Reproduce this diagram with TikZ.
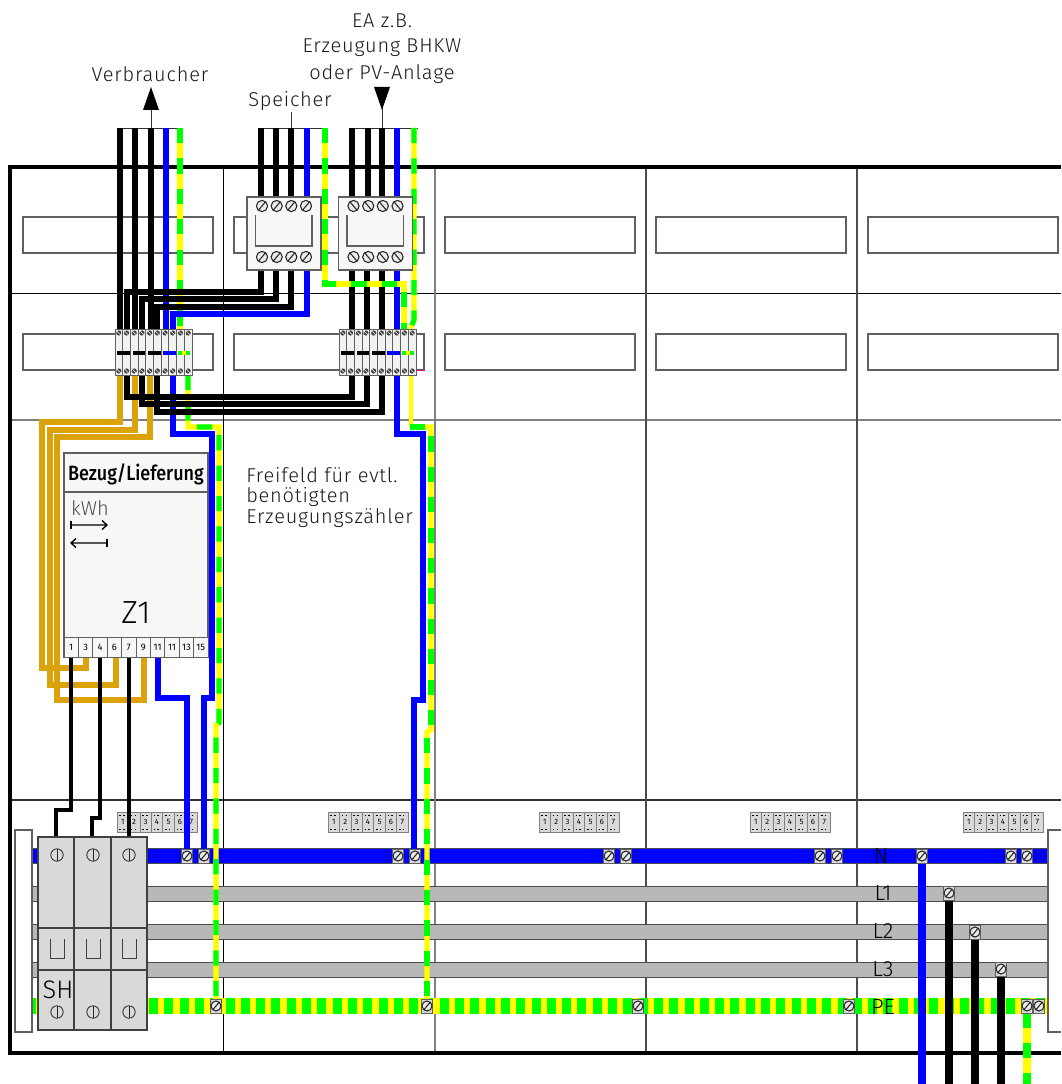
\documentclass[tikz,border=0pt]{standalone}
\usepackage{fontspec}
\setmainfont{Fira Sans Light}
\newfontfamily\thinfont[LetterSpace=4]{Fira Sans Light}
\newfontfamily\plainthin{Fira Sans Light}
\newfontfamily\headfont{Fira Sans Medium}
\newfontfamily\cellfont{Fira Sans}
\definecolor{gygreen}{HTML}{00FF00}
\definecolor{gyyellow}{HTML}{FFFF00}
\definecolor{nblue}{HTML}{0000FF}
\definecolor{gold}{HTML}{DCA20A}
\definecolor{busgrey}{HTML}{B8B8B8}
\definecolor{partgrey}{HTML}{D9D9D9}
\definecolor{edge}{HTML}{606060}
\tikzset{
  wireblk/.style={draw=black,line width=3.85pt},
  wireblu/.style={draw=nblue,line width=3.85pt},
  wiregold/.style={draw=gold,line width=3.85pt},
  wiremeter/.style={draw=black,line width=3.2pt},
  gybase/.style={draw=gyyellow,line width=3.8pt},
  gydash/.style={draw=gygreen,line width=3.8pt,dash pattern=on 11.4pt off 11.4pt},
  strip/.style={draw=edge,fill=white,line width=0.8pt},
  thin line/.style={draw=black,line width=0.7pt},
  grey line/.style={draw=gray,line width=1.1pt},
  lbl/.style={inner sep=0pt,font=\thinfont\fontsize{15}{16}\selectfont,text=black!90},
  buslbl/.style={inner sep=0pt,font=\plainthin\fontsize{16.5}{17}\selectfont,text=black},
  cellnum/.style={inner sep=0pt,font=\cellfont\fontsize{7}{8}\selectfont},
  tinynum/.style={inner sep=0pt,font=\cellfont\fontsize{5.8}{6}\selectfont},
  partbox/.style={draw=edge,fill=white!97!black,line width=0.8pt},
}
\newcommand\gyw[1]{\draw[gybase] #1; \draw[gydash] #1;}
\newcommand\scrw[4]{%
  \draw[draw=black!85,fill=white!92!black,line width=0.8pt] (#1,#2) circle[radius=#3];
  \draw[draw=black!85,line width=0.8pt] (#1,#2) ++(#4:#3) -- ++(#4+180:2*#3);}
\newcommand\busterm[2]{%
  \fill[partgrey,draw=edge,line width=0.5pt] (#1-5.5,#2-7) rectangle (#1+5.5,#2+7);
  \scrw{#1}{#2}{5}{-50}}
\newcommand\tinyscrew[2]{%
  \fill[black!75] (#1,#2) circle[radius=2.6];
  \draw[white,line width=0.4pt] (#1,#2) ++(45:2.6) -- ++(225:5.2);}
\newcommand\tblock[1]{% left edge
  \foreach \i in {0,...,9}{
    \draw[draw=edge,fill=white!95!black,line width=0.7pt] (#1+\i*7.7,329) rectangle (#1+\i*7.7+7.7,375);
    \tinyscrew{#1+\i*7.7+3.85}{333}
    \tinyscrew{#1+\i*7.7+3.85}{371}
  }
  \fill[black] (#1+2,351) rectangle (#1+14.5,355);
  \fill[black] (#1+17.5,351) rectangle (#1+30,355);
  \fill[black] (#1+33,351) rectangle (#1+45.5,355);
  \fill[nblue] (#1+48,351) rectangle (#1+60.5,355);
  \fill[gygreen] (#1+63,351) rectangle (#1+75,355);
  \fill[gyyellow] (#1+67,351) rectangle (#1+71,355);
}
\newcommand\numblock[1]{% left edge
  \fill[partgrey,draw=gray,line width=0.7pt] (#1,812) rectangle (#1+80,832);
  \foreach \i in {1,...,7}{
    \draw[draw=gray,line width=0.5pt] (#1+\i*11.43-11.43,812) rectangle (#1+\i*11.43,832);
    \draw[black,line width=0.6pt,dash pattern=on 1.2pt off 1.6pt] (#1+\i*11.43-9,815) -- (#1+\i*11.43-2,815);
    \draw[black,line width=0.6pt,dash pattern=on 1.2pt off 1.6pt] (#1+\i*11.43-9,829) -- (#1+\i*11.43-2,829);
    \node[tinynum] (n#1x\i) at (#1+\i*11.43-5.7,822) {\i};
  }}
\begin{document}
\begin{tikzpicture}[x=0.75pt,y=-0.75pt]
\path[use as bounding box] (0,0) rectangle (1061,1084);
% dividers
\draw[thin line] (10,293) -- (1061,293);
\draw[grey line] (10,420) -- (1061,420);
\draw[draw=black!80,line width=0.8pt] (10,800) -- (1061,800);
\draw[thin line] (223,167) -- (223,1053);
\draw[grey line] (435,167) -- (435,1053);
\draw[draw=black!70,line width=0.8pt] (646,167) -- (646,1053);
\draw[draw=black!70,line width=0.8pt] (857,167) -- (857,1053);
% frame
\draw[draw=black,line width=2.8pt] (1061,167) -- (10,167) -- (10,1053) -- (1061,1053);
% label strips
\foreach \y in {217,334}{
  \foreach \x/\w in {23/213,234/424,445/635,656/846,868/1058}{
    \draw[strip] (\x,\y) rectangle (\w,\y+36);
  }}
\draw[draw=magenta,line width=0.7pt] (416,370.5) -- (425,370.5);
% number blocks
\numblock{117}\numblock{328}\numblock{539}\numblock{750}\numblock{963}
% buses
\fill[nblue] (32,848) rectangle (1048,863);
\draw[draw=black!70,line width=0.5pt] (32,848) -- (1048,848) (32,863) -- (1048,863);
\foreach \a in {886,924,962}{
  \fill[busgrey] (32,\a) rectangle (1048,\a+15);
  \draw[draw=black!70,line width=0.6pt] (32,\a) -- (1048,\a) (32,\a+15) -- (1048,\a+15);
}
\fill[gyyellow] (32,998) rectangle (1048,1014);
\draw[draw=gygreen,line width=12pt,dash pattern=on 6.75pt off 4.725pt,dash phase=4pt] (32,1006) -- (1048,1006);
% bus labels
\node[buslbl] (labN) at (881,856) {N};
\node[buslbl] (labLa) at (883,893) {L1};
\node[buslbl] (labLb) at (883,931) {L2};
\node[buslbl] (labLc) at (883,969) {L3};
\node[buslbl] (labPE) at (883,1007) {PE};
% top tie lines and stems
\draw[draw=black!80,line width=0.7pt] (118,128) -- (183,128) (151,128) -- (151,108);
\draw[draw=black!80,line width=0.7pt] (259,128) -- (328,128) (291,128) -- (291,112);
\draw[draw=black!80,line width=0.7pt] (350,128) -- (418,128) (382,128) -- (382,108);
\fill[black] (151,87) -- (159,110) -- (143,110) -- cycle;
\fill[black] (382,110) -- (390,87) -- (374,87) -- cycle;
% gold wires
\draw[wiregold] (120,375) -- (120,422) -- (42,422) -- (42,668) -- (86,668) -- (86,657);
\draw[wiregold] (135,375) -- (135,430) -- (50,430) -- (50,685) -- (116,685) -- (116,657);
\draw[wiregold] (150,375) -- (150,437) -- (57,437) -- (57,700) -- (144,700) -- (144,657);
% verbraucher feed
\gyw{(180,128) -- (180,330)}
\draw[wireblu] (166,128) -- (166,330);
\draw[wireblk] (120,128) -- (120,330);
\draw[wireblk] (135,128) -- (135,330);
\draw[wireblk] (151,128) -- (151,330);
% speicher feed
\draw[wireblk] (261,128) -- (261,197);
\draw[wireblk] (276,128) -- (276,197);
\draw[wireblk] (291,128) -- (291,197);
\draw[wireblu] (307,128) -- (307,197);
\draw[wireblu] (307,270) -- (307,314) -- (173,314) -- (173,330);
\draw[wireblk] (261,270) -- (261,292) -- (127,292) -- (127,330);
\draw[wireblk] (276,270) -- (276,299) -- (142,299) -- (142,330);
\draw[wireblk] (291,270) -- (291,307) -- (157,307) -- (157,330);
% EA feed
\draw[wireblk] (352,128) -- (352,197) (352,270) -- (352,330);
\draw[wireblk] (368,128) -- (368,197) (367,270) -- (367,330);
\draw[wireblk] (382,128) -- (382,197) (382,270) -- (382,330);
\draw[wireblu] (397,128) -- (397,330);
\gyw{(325,128) -- (325,284) -- (404,284) -- (404,330)}
\gyw{(414,128) -- (414,320) -- (411,327) -- (411,330)}
% returns to meter and bus
\draw[wireblu] (397,375) -- (397,434) -- (423,434) -- (423,700) -- (414,700) -- (414,850);
\draw[wireblu] (173,375) -- (173,434) -- (212,434) -- (212,698) -- (204,698) -- (204,850);
\draw[wireblu] (158,657) -- (158,698) -- (187,698) -- (187,850);
\gyw{(188,375) -- (188,427) -- (219,427) -- (219,723) -- (216,725) -- (216,1000)}
\draw[draw=gyyellow,line width=2.8pt] (411,375) -- (411,427);
\gyw{(410,427) -- (431,427) -- (431,730) -- (427,732) -- (427,1000)}
\draw[wireblk] (127,375) -- (127,397) -- (352,397) -- (352,375);
\draw[wireblk] (142,375) -- (142,404) -- (367,404) -- (367,375);
\draw[wireblk] (157,375) -- (157,412) -- (382,412) -- (382,375);
\draw[wiremeter] (71,657) -- (71,810) -- (56,810) -- (56,838);
\draw[wiremeter] (100,657) -- (100,818) -- (92,818) -- (92,838);
\draw[wiremeter] (129,657) -- (129,838);
% drops
\draw[draw=nblue,line width=6pt] (922,863) -- (922,1084);
\draw[draw=black,line width=6pt] (949,900) -- (949,1084);
\draw[draw=black,line width=6pt] (975,938) -- (975,1084);
\draw[draw=black,line width=6pt] (1001,976) -- (1001,1084);
\draw[draw=gyyellow,line width=6pt] (1027,1013) -- (1027,1084);
\draw[draw=gygreen,line width=6pt,dash pattern=on 11.25pt off 11.25pt] (1027,1013) -- (1027,1084);
% terminal blocks
\tblock{115}
\tblock{339}
% speicher and EA boxes
\foreach \bx/\ang in {247/-50,338.5/50}{
  \draw[partbox] (\bx,197) rectangle (\bx+74,270);
  \draw[draw=edge,line width=0.8pt] (\bx+8.5,215) -- (\bx+8.5,246) -- (\bx+65,246) -- (\bx+65,215);
  \foreach \d in {15,29.7,44.3,59}{
    \scrw{\bx+\d}{206}{5.6}{\ang}
    \scrw{\bx+\d}{257}{5.6}{\ang}
  }
}
% meter
\draw[partbox] (64,453) rectangle (208,657);
\draw[draw=edge,line width=0.8pt] (64,492) -- (208,492);
\node[inner sep=0pt,font=\headfont\fontsize{15.5}{17}\selectfont] (title) at (136,474) {\scalebox{0.87}[1]{Bezug/Lieferung}};
\node[inner sep=0pt,font=\plainthin\fontsize{15}{15}\selectfont,text=black!70] (kwh) at (90,508) {kWh};
\draw[black,line width=1pt] (71,521) -- (71,529);
\draw[black,line width=1pt,line join=miter] (71,525) -- (107,525) (102,520.5) -- (107,525) -- (102,529.5);
\draw[black,line width=1pt] (107,539) -- (107,547);
\draw[black,line width=1pt] (107,543) -- (71,543) (76,538.5) -- (71,543) -- (76,547.5);
\node[inner sep=0pt,font=\plainthin\fontsize{24}{26}\selectfont] (zone) at (136,613) {Z1};
\foreach \i/\t in {0/1,1/3,2/4,3/6,4/7,5/9,6/11,7/11,8/13,9/15}{
  \draw[draw=edge,fill=white!97!black,line width=0.7pt] (64+\i*14.4,637) rectangle (64+\i*14.4+14.4,657);
  \node[cellnum] (cell\i) at (64+\i*14.4+7.2,647) {\t};
}
% free-field text
\node[lbl,anchor=west] (ffa) at (246,475) {Freifeld für evtl.};
\node[lbl,anchor=west] (ffb) at (246,497) {benötigten};
\node[lbl,anchor=west] (ffc) at (246,518) {Erzeugungszähler};
% top labels
\node[lbl] (verb) at (150,74) {Verbraucher};
\node[lbl] (spei) at (290,101) {Speicher};
\node[lbl] (eaa) at (382,21) {EA z.B.};
\node[lbl] (eab) at (382,48) {Erzeugung BHKW};
\node[lbl] (eac) at (382,74) {oder PV-Anlage};
% side rails
\draw[strip] (15,830) rectangle (32,1032);
\draw[strip] (1061,830) -- (1048,830) -- (1048,1032) -- (1061,1032);
% breaker
\draw[draw=black!75,fill=partgrey,line width=0.8pt] (38,837) rectangle (147,1030);
\draw[draw=black!75,line width=0.8pt] (74,837) -- (74,1030) (111,837) -- (111,1030) (38,928) -- (147,928) (38,970) -- (147,970);
\foreach \x in {57,93,129}{
  \foreach \y in {855,1012}{
    \draw[draw=black!85,line width=0.6pt] (\x,\y) circle[radius=6.2];
    \draw[draw=black!85,line width=0.6pt] (\x,\y-6.2) -- (\x,\y+6.2);
  }
  \draw[draw=black!75,line width=0.6pt] (\x-7,939) -- (\x-7,958) -- (\x+7,958) -- (\x+7,939);
}
\node[inner sep=0pt,font=\plainthin\fontsize{19}{21}\selectfont] (sh) at (58,990) {SH};
% bus terminals
\foreach \x in {187,204,398,415,609,626,820,837,922,1011,1027}{\busterm{\x}{856}}
\busterm{949}{893}
\busterm{975}{932}
\busterm{1001}{969}
\foreach \x in {216,427,638,849,1027,1039}{\busterm{\x}{1006}}
\end{tikzpicture}
\end{document}
